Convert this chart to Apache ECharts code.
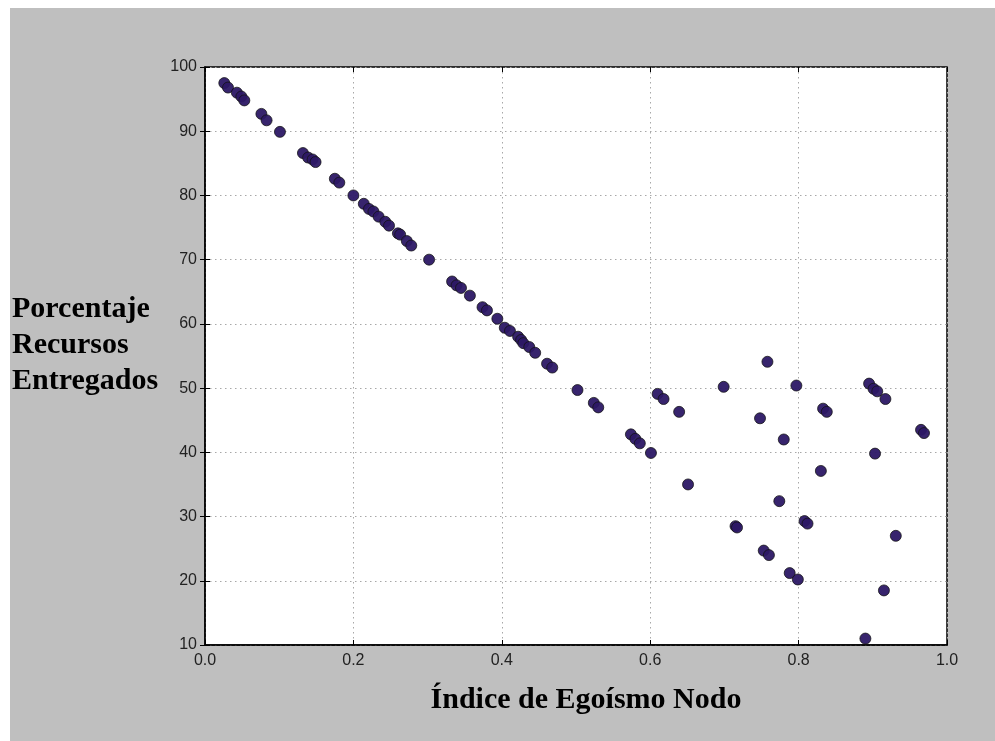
<!DOCTYPE html>
<html>
<head>
<meta charset="utf-8">
<script src="https://cdn.jsdelivr.net/npm/echarts@6/dist/echarts.min.js"></script>
<style>
  html, body { margin: 0; padding: 0; background: #ffffff; }
  #frame { position: absolute; left: 10px; top: 8px; width: 985px; height: 733px; background: #bfbfbf; }
  #chart { position: absolute; left: 0; top: 0; width: 995px; height: 741px; }
</style>
</head>
<body>
<div id="frame"></div>
<div id="chart"></div>
<script>
// Node selfishness index vs. percentage of resources delivered
const selfishness = [
  0.026, 0.031, 0.043, 0.049, 0.053, 0.076, 0.083, 0.101, 0.132, 0.139,
  0.145, 0.149, 0.175, 0.181, 0.200, 0.214, 0.221, 0.227, 0.234, 0.243,
  0.248, 0.260, 0.263, 0.272, 0.278, 0.302, 0.333, 0.339, 0.345, 0.357,
  0.374, 0.380, 0.394, 0.404, 0.411, 0.422, 0.426, 0.429, 0.437, 0.445,
  0.461, 0.468, 0.502, 0.524, 0.530, 0.574, 0.580, 0.586, 0.601, 0.610,
  0.618, 0.639, 0.651, 0.699, 0.715, 0.717, 0.748, 0.753, 0.760, 0.758,
  0.774, 0.780, 0.788, 0.797, 0.799, 0.808, 0.812, 0.830, 0.833, 0.838,
  0.890, 0.895, 0.901, 0.906, 0.903, 0.915, 0.917, 0.931, 0.965, 0.969
];
const delivered = [
  97.5, 96.8, 96.0, 95.4, 94.8, 92.7, 91.7, 89.9, 86.6, 85.9,
  85.6, 85.2, 82.6, 82.0, 80.0, 78.7, 77.9, 77.5, 76.7, 75.9,
  75.3, 74.1, 73.9, 72.9, 72.2, 70.0, 66.6, 66.0, 65.6, 64.4,
  62.6, 62.1, 60.8, 59.4, 58.9, 58.0, 57.5, 57.0, 56.4, 55.5,
  53.8, 53.2, 49.7, 47.7, 47.0, 42.8, 42.1, 41.4, 39.9, 49.1,
  48.3, 46.3, 35.0, 50.2, 28.5, 28.3, 45.3, 24.7, 24.0, 54.1,
  32.4, 42.0, 21.2, 50.4, 20.2, 29.3, 28.9, 37.1, 46.8, 46.3,
  11.0, 50.7, 49.9, 49.5, 39.8, 18.5, 48.3, 27.0, 43.5, 43.0
];
const xTicks = [0.0, 0.2, 0.4, 0.6, 0.8, 1.0];
const yTicks = [10, 20, 30, 40, 50, 60, 70, 80, 90, 100];

const xTitle = 'Índice de Egoísmo Nodo';
const yTitle = 'Porcentaje\nRecursos\nEntregados';

const points = selfishness.map((x, i) => [x, delivered[i]]);

const chart = echarts.init(document.getElementById('chart'), null, { renderer: 'canvas' });

const tickFont = { fontFamily: 'Liberation Sans, Arial, sans-serif', fontSize: 16, color: '#222' };
const gridDots = { show: true, lineStyle: { color: '#a8a8a8', type: [1.5, 3.5], width: 1 } };
const inTicks = { show: true, inside: true, length: 5, lineStyle: { color: '#000', width: 1 } };

chart.setOption({
  backgroundColor: 'transparent',
  animation: false,
  grid: {
    left: 205, top: 67, right: 48, bottom: 96,
    show: true, backgroundColor: '#ffffff', borderColor: '#000', borderWidth: 1.5
  },
  xAxis: [{
    type: 'value', min: xTicks[0], max: xTicks[xTicks.length - 1], interval: 0.2,
    axisLine: { show: true, lineStyle: { color: '#000', width: 1.5 } },
    axisTick: inTicks,
    splitLine: gridDots,
    axisLabel: Object.assign({ margin: 8, formatter: v => v.toFixed(1) }, tickFont)
  }, {
    type: 'value', position: 'top', min: xTicks[0], max: xTicks[xTicks.length - 1], interval: 0.2,
    axisLine: { show: false }, axisTick: inTicks, splitLine: { show: false }, axisLabel: { show: false }
  }],
  yAxis: [{
    type: 'value', min: yTicks[0], max: yTicks[yTicks.length - 1], interval: 10,
    axisLine: { show: true, lineStyle: { color: '#000', width: 1.5 } },
    axisTick: inTicks,
    splitLine: gridDots,
    axisLabel: Object.assign({ margin: 8 }, tickFont)
  }, {
    type: 'value', position: 'right', min: yTicks[0], max: yTicks[yTicks.length - 1], interval: 10,
    axisLine: { show: false }, axisTick: inTicks, splitLine: { show: false }, axisLabel: { show: false }
  }],
  graphic: [{
    type: 'text', x: 12, y: 291,
    style: {
      text: yTitle, fill: '#000',
      font: 'bold 30px "Liberation Serif", "Times New Roman", serif',
      lineHeight: 36
    }
  }, {
    type: 'text', x: 586, y: 700,
    style: {
      text: xTitle, fill: '#000',
      font: 'bold 30px "Liberation Serif", "Times New Roman", serif',
      align: 'center', verticalAlign: 'middle'
    }
  }],
  series: [{
    type: 'scatter',
    data: points,
    symbol: 'circle',
    symbolSize: 11,
    itemStyle: { color: '#2c1865', borderColor: '#111', borderWidth: 0.8, opacity: 0.95 }
  }]
});
</script>
</body>
</html>
